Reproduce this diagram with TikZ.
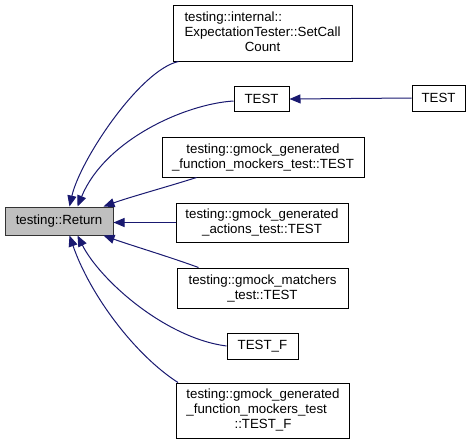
\documentclass[tikz,border=0pt]{standalone}
\usepackage{fontspec}
\setmainfont{Liberation Sans}
\usetikzlibrary{arrows.meta}
\definecolor{edgeblue}{HTML}{191970}
\tikzset{
  box/.style={draw=black, line width=1pt, fill=white, inner sep=0pt,
    font=\fontsize{13.3}{15}\selectfont, align=center},
  rootbox/.style={box, draw=black!80, fill=black!25},
  edge/.style={draw=edgeblue, line width=1pt, -{Triangle[length=11pt,width=9pt]}}
}
\renewcommand\arraystretch{1}
\begin{document}
\begin{tikzpicture}[x=1pt,y=-1pt]
\useasboundingbox (0,0) rectangle (473,445);
\node[rootbox, minimum width=108pt, minimum height=28pt] (ret) at (59,221) {testing::Return};
\node[box, minimum width=179pt, minimum height=56pt] (setcall) at (262.5,33)
  {\begin{tabular}{@{}l@{}}testing::internal::\\ExpectationTester::SetCall\\\multicolumn{1}{@{}c@{}}{Count}\end{tabular}};
\node[box, minimum width=55pt, minimum height=25pt] (test1) at (261.5,99) {TEST};
\node[box, minimum width=53pt, minimum height=26pt] (test2) at (438.5,98) {TEST};
\node[box, minimum width=202pt, minimum height=40pt] (fmt) at (263,157)
  {testing::gmock\_generated\\\_function\_mockers\_test::TEST};
\node[box, minimum width=172pt, minimum height=39pt] (act) at (262,222.5)
  {testing::gmock\_generated\\\_actions\_test::TEST};
\node[box, minimum width=171pt, minimum height=40pt] (mat) at (262.5,288)
  {testing::gmock\_matchers\\\_test::TEST};
\node[box, minimum width=71pt, minimum height=26pt] (testf) at (262.5,346) {TEST\_F};
\node[box, minimum width=173pt, minimum height=55pt] (last) at (263,410.5)
  {\begin{tabular}{@{}l@{}}testing::gmock\_generated\\\_function\_mockers\_test\\\multicolumn{1}{@{}c@{}}{::TEST\_F}\end{tabular}};

\draw[edge] ([xshift=6pt]setcall.south west) .. controls (140,70) and (80,160) .. ([xshift=65pt]ret.north west);
\draw[edge] ([yshift=-2pt]test1.west) .. controls (185,104) and (105,140) .. ([xshift=73pt]ret.north west);
\draw[edge] ([xshift=35pt]fmt.south west) .. controls (170,186) and (130,197) .. ([xshift=99pt]ret.north west);
\draw[edge] (act.west) -- (ret.east |- act.west);
\draw[edge] ([xshift=22pt]mat.north west) .. controls (170,257) and (130,245) .. ([xshift=99pt]ret.south west);
\draw[edge] (testf.west) .. controls (165,338) and (100,280) .. ([xshift=73pt]ret.south west);
\draw[edge] ([xshift=2pt]last.north west) .. controls (135,355) and (90,295) .. ([xshift=65pt]ret.south west);
\draw[edge] (test2.west) -- (test1.east);
\end{tikzpicture}
\end{document}
